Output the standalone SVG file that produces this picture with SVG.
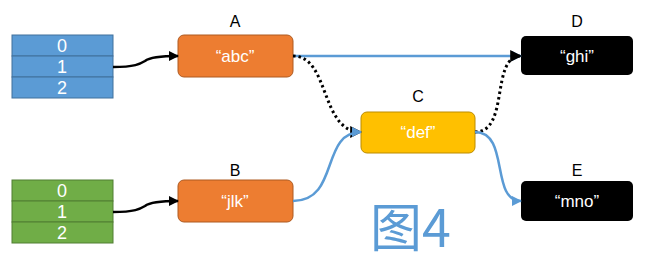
<svg xmlns="http://www.w3.org/2000/svg" width="648" height="265" viewBox="0 0 648 265">
<defs>
<marker id="ab" viewBox="0 0 10 10" refX="9" refY="5" markerWidth="4" markerHeight="4" orient="auto" markerUnits="strokeWidth"><path d="M0,0 L10,5 L0,10 z" fill="#000"/></marker>
<marker id="au" viewBox="0 0 10 10" refX="9" refY="5" markerWidth="4" markerHeight="4" orient="auto" markerUnits="strokeWidth"><path d="M0,0 L10,5 L0,10 z" fill="#5b9bd5"/></marker>
<style>
.lbl{font-family:"Liberation Sans",Arial,sans-serif;font-size:16px;fill:#000;text-anchor:middle}
.wt{font-family:"Liberation Sans",Arial,sans-serif;font-size:17px;fill:#fff;text-anchor:middle;dominant-baseline:central}
.num{font-family:"Liberation Sans",Arial,sans-serif;font-size:18px;fill:#fff;text-anchor:middle;dominant-baseline:central}
.blk{stroke:#000;stroke-width:2.5;fill:none;marker-end:url(#ab)}
.dot{stroke:#000;stroke-width:3;fill:none;stroke-dasharray:2.5 3;marker-end:url(#ab)}
.blu{stroke:#5b9bd5;stroke-width:2.5;fill:none;marker-end:url(#au)}
</style>
</defs>
<rect width="648" height="265" fill="#fff"/>
<g id="array1">
<rect x="12" y="35" width="101" height="21" fill="#5b9bd5" stroke="#41719c"/>
<rect x="12" y="56" width="101" height="21" fill="#5b9bd5" stroke="#41719c"/>
<rect x="12" y="77" width="101" height="21" fill="#5b9bd5" stroke="#41719c"/>
<text class="num" x="62" y="46">0</text>
<text class="num" x="62" y="67">1</text>
<text class="num" x="62" y="88">2</text>
</g>
<g id="array2">
<rect x="12" y="180" width="101" height="21" fill="#70ad47" stroke="#507e32"/>
<rect x="12" y="201" width="101" height="21" fill="#70ad47" stroke="#507e32"/>
<rect x="12" y="222" width="101" height="21" fill="#70ad47" stroke="#507e32"/>
<text class="num" x="62" y="191">0</text>
<text class="num" x="62" y="212">1</text>
<text class="num" x="62" y="233">2</text>
</g>
<g id="A">
<text class="lbl" x="235" y="27">A</text>
<rect x="178" y="35" width="115" height="42" rx="6" fill="#ed7d31" stroke="#ae5a21"/>
<text class="wt" x="235" y="56">“abc”</text>
</g>
<g id="B">
<text class="lbl" x="235" y="176">B</text>
<rect x="178" y="180" width="115" height="42" rx="6" fill="#ed7d31" stroke="#ae5a21"/>
<text class="wt" x="235" y="201">“jlk”</text>
</g>
<g id="C">
<text class="lbl" x="418" y="102">C</text>
<rect x="361" y="112" width="114" height="41" rx="6" fill="#ffc000" stroke="#bc8c00"/>
<text class="wt" x="418" y="132">“def”</text>
</g>
<g id="D">
<text class="lbl" x="577" y="27">D</text>
<rect x="521" y="36" width="112" height="39" rx="5" fill="#000"/>
<text class="wt" x="577" y="56">“ghi”</text>
</g>
<g id="E">
<text class="lbl" x="577" y="176">E</text>
<rect x="521" y="181" width="112" height="40" rx="5" fill="#000"/>
<text class="wt" x="577" y="201">“mno”</text>
</g>
<g id="connectors">
<path class="blk" d="M113,67 C135,67 140,64 145,61 C150,57 160,56 178,56"/>
<path class="blk" d="M113,212 C135,212 140,209 145,206 C150,202 160,201 178,201"/>
<path class="blu" d="M293,56 L521,56"/>
<path class="dot" d="M293,56 C330,56 320,132 361,132"/>
<path class="dot" d="M475,132 C510,132 490,56 521,56"/>
<path class="blu" d="M293,201 C340,201 320,132 361,132"/>
<path class="blu" d="M475,132 C510,132 490,201 521,201"/>
</g>
<text x="370" y="247" font-family="'Noto Sans CJK SC',sans-serif" font-size="52" fill="#5b9bd5">图4</text>
</svg>
